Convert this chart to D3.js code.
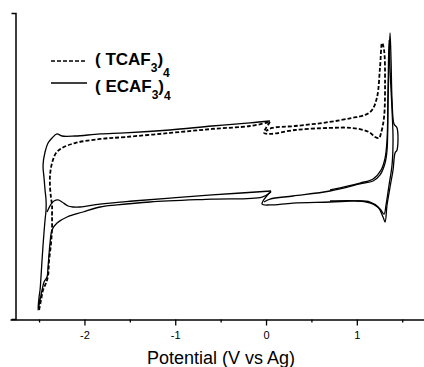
<!DOCTYPE html>
<html><head><meta charset="utf-8">
<script src="https://cdn.jsdelivr.net/npm/d3@7"></script>
<style>html,body{margin:0;padding:0;background:#fff;} svg{display:block;}</style>
</head><body><svg id="c" width="424" height="367"></svg>
<script>
// ---- data (potential V vs Ag, current in arbitrary units) ----
const majorTicks = [-2, -1, 0, 1];
const minorTicks = [-2.5, -1.5, -0.5, 0.5, 1.5];
const xTitle = "Potential (V vs Ag)";
const legendNames = [["( TCAF", "3", ")", "4"], ["( ECAF", "3", ")", "4"]];

const tcafNegScan = [[-2.500,-141.2],[-2.478,-131.4],[-2.456,-121.6],[-2.423,-114.7],[-2.401,-107.8],[-2.390,-93.1],[-2.368,-75.5],[-2.357,-60.8],[-2.357,-48.0],[-2.357,-38.2],[-2.368,-31.4],[-2.379,-20.6],[-2.379,-8.8],[-2.357,2.9],[-2.313,12.7],[-2.247,17.6],[-2.104,22.5],[-1.828,26.5],[-1.553,28.4],[-1.057,32.4],[-0.595,36.3],[-0.176,39.2],[0.044,43.1]];
const tcafPosScan = [[0.044,43.1],[-0.022,32.4],[0.044,31.4],[0.319,35.3],[0.694,37.3],[0.947,37.3],[1.134,33.3],[1.201,28.4],[1.245,27.5],[1.267,32.4],[1.300,48.0],[1.311,81.4],[1.300,113.7],[1.278,120.6],[1.256,97.1],[1.223,67.6],[1.168,54.9],[1.090,50.0],[0.947,47.1],[0.694,43.1],[0.319,39.2],[0.066,37.3],[0.000,34.3]];

const ecafNegScan = [[0.055,-25.5],[-0.044,-30.4],[-0.595,-32.4],[-1.278,-35.3],[-1.641,-38.2],[-1.828,-40.2],[-2.016,-45.1],[-2.192,-50.0],[-2.302,-55.9],[-2.357,-62.7],[-2.379,-75.5],[-2.401,-99.0],[-2.412,-108.8],[-2.445,-113.7],[-2.467,-121.6],[-2.489,-131.4],[-2.511,-141.2],[-2.500,-128.4],[-2.489,-121.6],[-2.478,-107.8],[-2.467,-92.2],[-2.456,-77.5],[-2.445,-64.7],[-2.434,-52.9],[-2.423,-43.1],[-2.423,-33.3],[-2.434,-23.5],[-2.445,-11.8],[-2.456,1.0],[-2.434,13.7],[-2.401,22.5],[-2.357,27.5],[-2.302,31.4],[-2.247,29.4],[-2.104,29.4],[-1.828,31.4],[-1.553,32.4],[-1.057,35.3],[-0.595,39.2],[-0.176,42.2],[0.044,44.1]];
const ecafNegScan2 = [[0.055,-24.5],[-0.595,-28.4],[-1.057,-31.4],[-1.465,-34.3],[-1.828,-37.3],[-2.049,-40.2],[-2.126,-40.2],[-2.181,-39.2],[-2.247,-35.3],[-2.291,-33.3],[-2.335,-34.3],[-2.368,-37.3],[-2.412,-45.1]];
const ecafPosScan = [[0.055,-24.5],[-0.044,-37.3],[0.044,-38.2],[0.297,-36.3],[0.705,-35.3],[1.002,-34.3],[1.146,-35.3],[1.234,-40.2],[1.289,-50.0],[1.311,-54.9],[1.333,-38.2],[1.366,-20.6],[1.399,-3.9],[1.421,12.7],[1.443,15.7],[1.443,37.3],[1.410,41.2],[1.388,64.7],[1.377,103.9],[1.366,130.4],[1.355,103.9],[1.344,64.7],[1.333,15.7],[1.311,2.9],[1.256,-8.8],[1.179,-14.7],[1.035,-17.6],[0.705,-24.5],[0.297,-29.4],[0.044,-32.4],[-0.022,-35.3]];
const ecafPosScan2 = [[0.705,-23.5],[1.035,-16.7],[1.179,-12.7],[1.267,-3.9],[1.311,7.8],[1.333,25.5],[1.344,74.5],[1.355,123.5],[1.366,94.1],[1.388,54.9],[1.399,25.5],[1.388,1.0],[1.355,-18.6],[1.322,-38.2],[1.300,-47.1],[1.256,-42.2],[1.179,-37.3],[1.035,-34.3],[0.705,-34.3]];

// ---- drawing ----
const svg = d3.select("#c");
svg.append("rect").attr("width",424).attr("height",367).attr("fill","#fff");
const FONT = "'Liberation Sans', Arial, Helvetica, sans-serif";

const x = d3.scaleLinear().domain([-2.82, 1.74]).range([10, 424]);
const y = d3.scaleLinear().domain([-150, 150]).range([319, 13]);
const AX_Y = 319.5, AX_X = 15.5;

const line = d3.line().x(d => x(d[0])).y(d => y(d[1])).curve(d3.curveCatmullRom.alpha(0.5));

const solid = [ecafNegScan, ecafNegScan2, ecafPosScan, ecafPosScan2];
const dashed = [tcafNegScan, tcafPosScan];

svg.append("g").selectAll("path").data(solid).join("path")
  .attr("d", line).attr("fill","none").attr("stroke","#000").attr("stroke-width",1.3)
  .attr("stroke-linejoin","round");
svg.append("g").selectAll("path").data(dashed).join("path")
  .attr("d", line).attr("fill","none").attr("stroke","#000").attr("stroke-width",1.8)
  .attr("stroke-dasharray","4,2").attr("stroke-linejoin","round");

// x axis
const xAxis = d3.axisBottom(x).tickValues(majorTicks).tickSize(6).tickSizeOuter(0)
  .tickPadding(6).tickFormat(d => String(d));
const gx = svg.append("g").attr("transform", `translate(0,${AX_Y})`).call(xAxis);
gx.select(".domain").attr("stroke-width",1.5);
gx.selectAll(".tick line").attr("stroke-width",1.3);
gx.selectAll(".tick text").attr("font-family",FONT).attr("font-size",11).attr("fill","#000");
const xMinor = d3.axisBottom(x).tickValues(minorTicks).tickSize(3).tickSizeOuter(0).tickFormat("");
const gxm = svg.append("g").attr("transform", `translate(0,${AX_Y})`).call(xMinor);
gxm.select(".domain").remove();
gxm.selectAll(".tick line").attr("stroke-width",1.3);

// y axis (no labels)
const yAxis = d3.axisLeft(y).tickValues([]).tickSizeOuter(4);
const gy = svg.append("g").attr("transform", `translate(${AX_X},0)`).call(yAxis);
gy.select(".domain").attr("stroke-width",1.5);

// axis title
svg.append("text").attr("x",221).attr("y",364).attr("text-anchor","middle")
  .attr("font-family",FONT).attr("font-size",18).text(xTitle);

// legend
const legY = [61, 83];
const legTextY = [64.5, 92];
legendNames.forEach((parts, i) => {
  svg.append("line").attr("x1",51).attr("x2",87).attr("y1",legY[i]).attr("y2",legY[i])
    .attr("stroke","#000").attr("stroke-width", i===0 ? 1.6 : 1.3)
    .attr("stroke-dasharray", i===0 ? "4,2" : null);
  const t = svg.append("text").attr("x",95).attr("y",legTextY[i])
    .attr("font-family",FONT).attr("font-weight","bold").attr("font-size",17);
  t.append("tspan").text(parts[0]);
  t.append("tspan").attr("font-size",12).attr("dy",7).text(parts[1]);
  t.append("tspan").attr("dy",-7).text(parts[2]);
  t.append("tspan").attr("font-size",12).attr("dy", i===0 ? 12 : 8).text(parts[3]);
});
</script></body></html>
